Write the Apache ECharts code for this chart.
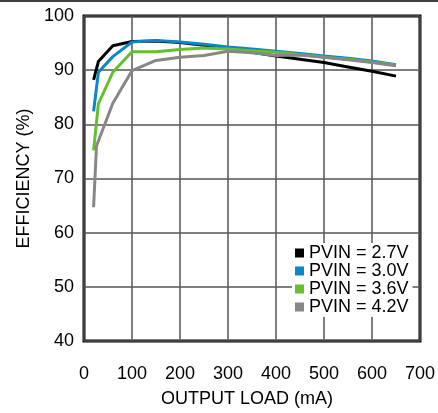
<!DOCTYPE html>
<html><head><meta charset="utf-8">
<script src="https://cdn.jsdelivr.net/npm/echarts@6/dist/echarts.min.js"></script>
<style>html,body{margin:0;padding:0;background:#fff;}#c{width:438px;height:413px;}</style>
</head><body><div id="c"></div>
<script>
var seriesNames = ['PVIN = 2.7V', 'PVIN = 3.0V', 'PVIN = 3.6V', 'PVIN = 4.2V'];
var loadsA = [20, 30, 60, 100, 150, 200, 250, 300, 350, 400, 450, 500, 550, 600, 650];
var loadsGray = [20, 26, 60, 100, 150, 200, 250, 300, 350, 400, 450, 500, 550, 600, 650];
var eff27 = [88.2, 91.6, 94.5, 95.3, 95.4, 95.1, 94.6, 94.1, 93.3, 92.6, 92.0, 91.4, 90.6, 89.8, 88.9];
var eff30 = [82.4, 89.6, 92.5, 95.2, 95.5, 95.2, 94.8, 94.3, 93.9, 93.5, 93.1, 92.6, 92.2, 91.7, 91.0];
var eff36 = [75.2, 83.8, 89.6, 93.4, 93.4, 93.8, 94.1, 93.9, 93.6, 93.3, 92.9, 92.4, 92.0, 91.5, 90.9];
var eff42 = [64.7, 76.0, 83.9, 89.9, 91.8, 92.4, 92.7, 93.5, 93.2, 92.7, 92.8, 92.4, 91.9, 91.4, 90.8];
var xTicks = [0, 100, 200, 300, 400, 500, 600, 700];
var yTicks = [40, 50, 60, 70, 80, 90, 100];
var colors = ['#000000', '#0a87c6', '#66bf2e', '#878787'];

function pairs(xs, ys) { return xs.map(function (x, i) { return [x, ys[i]]; }); }
var dataSets = [pairs(loadsA, eff27), pairs(loadsA, eff30), pairs(loadsA, eff36), pairs(loadsGray, eff42)];

var font = '"Liberation Sans", Arial, sans-serif';
var chart = echarts.init(document.getElementById('c'), null, {renderer: 'canvas'});
chart.setOption({
  animation: false,
  backgroundColor: '#fff',
  grid: {left: 84, right: 18, top: 16, bottom: 68, show: true, borderColor: '#000', borderWidth: 3, backgroundColor: 'transparent'},
  xAxis: {
    type: 'value', min: xTicks[0], max: xTicks[xTicks.length - 1], interval: 100,
    name: 'OUTPUT LOAD (mA)', nameLocation: 'middle', nameGap: 49,
    nameTextStyle: {fontFamily: font, fontSize: 18, color: '#000', padding: [0, 10, 0, 0]},
    axisLine: {show: false}, axisTick: {show: false},
    axisLabel: {fontFamily: font, fontSize: 18, color: '#000', margin: 24},
    splitLine: {show: true, lineStyle: {color: '#555', width: 1.5}}
  },
  yAxis: {
    type: 'value', min: yTicks[0], max: yTicks[yTicks.length - 1], interval: 10,
    name: 'EFFICIENCY (%)', nameLocation: 'middle', nameGap: 44,
    nameTextStyle: {fontFamily: font, fontSize: 18, color: '#000'},
    axisLine: {show: false}, axisTick: {show: false},
    axisLabel: {fontFamily: font, fontSize: 18, color: '#000', margin: 10},
    splitLine: {show: true, lineStyle: {color: '#555', width: 1.5}}
  },
  legend: {
    orient: 'vertical', left: 292, top: 243, padding: [1, 4, 1, 3],
    backgroundColor: '#fff', itemGap: 0, itemWidth: 9, itemHeight: 9, itemTextGap: 6,
    icon: 'rect',
    textStyle: {fontFamily: font, fontSize: 18, color: '#000', lineHeight: 17},
    data: seriesNames
  },
  graphic: [{type: 'line', shape: {x1: 0, y1: 1, x2: 438, y2: 1}, style: {stroke: '#000', lineWidth: 1.5}}],
  series: seriesNames.map(function (n, i) {
    return {name: n, type: 'line', data: dataSets[i], symbol: 'none', color: colors[i],
      lineStyle: {color: colors[i], width: 3}, z: 2 + i};
  })
});
</script></body></html>
